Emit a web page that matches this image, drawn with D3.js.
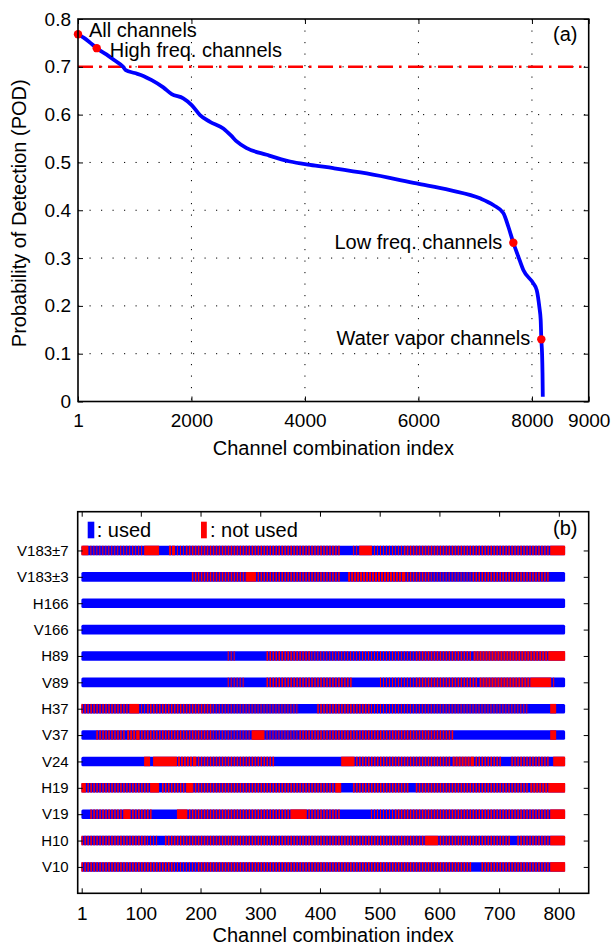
<!DOCTYPE html>
<html><head><meta charset="utf-8">
<script src="https://cdn.jsdelivr.net/npm/d3@7"></script>
<style>
body{margin:0;background:#fff}
text{font-family:"Liberation Sans",Arial,Helvetica,sans-serif;fill:#000}
</style>
</head><body><svg id="c" width="612" height="947"></svg>
<script>
// ---------- Panel (a) data ----------
const podIndex = [1,100,200,331,500,650,796,842,1000,1152,1300,1504,1652,1856,2004,2151,2327,2561,2700,2797,2974,3326,3737,4089,4500,5088,5969,6556,7085,7319,7495,7583,7672,7760,7848,8024,8084,8130,8154,8165,8178,8186,8191];
const podValue = [0.768,0.761,0.752,0.739,0.726,0.713,0.700,0.693,0.687,0.681,0.672,0.657,0.643,0.634,0.620,0.599,0.585,0.571,0.556,0.544,0.530,0.516,0.502,0.495,0.488,0.477,0.456,0.442,0.425,0.411,0.394,0.366,0.332,0.303,0.275,0.247,0.233,0.198,0.170,0.130,0.101,0.060,0.010];
const markerIndex = [1,331,7672,8165];
const markerPOD = [0.768,0.739,0.332,0.130];
const markerLabel = ["All channels","High freq. channels","Low freq. channels","Water vapor channels"];
const thresholdPOD = 0.7;
const xTicksA = [1,2000,4000,6000,8000,9000];
const yTicksA = [0,0.1,0.2,0.3,0.4,0.5,0.6,0.7,0.8];
const xGridA = [2000,4000,6000,8000];
const yGridA = [0.1,0.2,0.3,0.4,0.5,0.6,0.7];

// ---------- Panel (b) data ----------
const channels = ["V183±7","V183±3","H166","V166","H89","V89","H37","V37","V24","H19","V19","H10","V10"];
// usage, in bins of 5 combinations: type + end bin
// b = used, r = not used, m = both about equally, x = mostly used, y = mostly not used
const usageRuns = [
 "r2 x21 r26 b29 y31 x35 m87 b91 x93 r97 x108 m157 r162",
 "b37 m55 r58 m87 b89 y108 m117 x131 m157 b162",
 "b162",
 "b162",
 "b49 x52 b62 m77 x112 m131 y157 r162",
 "b49 x55 b62 m91 b100 x112 m133 y151 r157 x159 b162",
 "m16 r19 x22 m44 x73 b79 m97 x150 b157 r159 b162",
 "b5 m15 y19 m44 x57 r61 x73 m125 b157 r159 b162",
 "b21 r23 b24 r32 y38 m65 b87 r91 m124 y131 m141 b144 m157 b158 r162",
 "r1 m23 r26 b27 m35 r37 m85 r87 b91 m110 b112 m150 y157 r162",
 "b3 m14 r16 m24 b32 r35 m70 r75 m87 b97 x105 m157 r162",
 "m22 x26 b28 m115 r119 m144 b146 m157 r162",
 "m31 x39 m131 b134 m157 r162"
];
const binSize = 5;
const xTicksB = [1,100,200,300,400,500,600,700,800];

const BLUE = "#0000ff", RED = "#ff0000";
const svg = d3.select("#c");

// ================= Panel (a) =================
const A = {l:78, r:588.7, t:19, b:401.5};
const xa = d3.scaleLinear([1,9000],[A.l,A.r]);
const ya = d3.scaleLinear([0,0.8],[A.b,A.t]);
const ga = svg.append("g");

// grid
ga.append("g").selectAll("line").data(xGridA).join("line")
  .attr("x1",d=>xa(d)).attr("x2",d=>xa(d)).attr("y1",A.t).attr("y2",A.b)
  .attr("stroke","#000").attr("stroke-width",1).attr("stroke-dasharray","1.2,10.3");
ga.append("g").selectAll("line").data(yGridA).join("line")
  .attr("y1",d=>ya(d)).attr("y2",d=>ya(d)).attr("x1",A.l).attr("x2",A.r)
  .attr("stroke","#000").attr("stroke-width",1).attr("stroke-dasharray","1.2,10.3");

// threshold
ga.append("line").attr("x1",A.l).attr("x2",A.r).attr("y1",ya(thresholdPOD)).attr("y2",ya(thresholdPOD))
  .attr("stroke",RED).attr("stroke-width",2.6).attr("stroke-dasharray","15,6,2.5,6.5");

// curve
const pts = podIndex.map((d,i)=>[d,podValue[i]]);
ga.append("path").datum(pts)
  .attr("d", d3.line().x(d=>xa(d[0])).y(d=>ya(d[1])).curve(d3.curveMonotoneX))
  .attr("fill","none").attr("stroke",BLUE).attr("stroke-width",3.8).attr("stroke-linejoin","round");

// markers
ga.append("g").selectAll("circle").data(markerIndex).join("circle")
  .attr("cx",d=>xa(d)).attr("cy",(d,i)=>ya(markerPOD[i])).attr("r",4.2).attr("fill",RED);

// annotations
const annPos = [{dx:11,dy:3,anchor:"start"},{dx:13,dy:9,anchor:"start"},{dx:-11,dy:6,anchor:"end"},{dx:-11,dy:6,anchor:"end"}];
ga.append("g").selectAll("text").data(markerLabel).join("text")
  .attr("x",(d,i)=>xa(markerIndex[i])+annPos[i].dx)
  .attr("y",(d,i)=>ya(markerPOD[i])+annPos[i].dy)
  .attr("text-anchor",(d,i)=>annPos[i].anchor)
  .attr("font-size",20).text(d=>d);

// axes (inward ticks)
function styleAxis(g,fs){
  g.select(".domain").remove();
  g.selectAll(".tick line").attr("stroke","#000").attr("stroke-width",1);
  g.selectAll(".tick text").attr("font-size",fs).attr("font-family","Liberation Sans, Arial, sans-serif").attr("fill","#000");
}
ga.append("g").attr("transform",`translate(0,${A.b})`)
  .call(d3.axisBottom(xa).tickValues(xTicksA).tickFormat(d3.format("d")).tickSizeInner(-5).tickSizeOuter(0).tickPadding(12))
  .call(g=>styleAxis(g,19));
ga.append("g").attr("transform",`translate(0,${A.t})`)
  .call(d3.axisTop(xa).tickValues(xTicksA).tickFormat("").tickSizeInner(-5).tickSizeOuter(0))
  .call(g=>styleAxis(g,19));
ga.append("g").attr("transform",`translate(${A.l},0)`)
  .call(d3.axisLeft(ya).tickValues(yTicksA).tickFormat(d=>d===0?"0":d3.format(".1f")(d)).tickSizeInner(-5).tickSizeOuter(0).tickPadding(7))
  .call(g=>styleAxis(g,19));
ga.append("g").attr("transform",`translate(${A.r},0)`)
  .call(d3.axisRight(ya).tickValues(yTicksA).tickFormat("").tickSizeInner(-5).tickSizeOuter(0))
  .call(g=>styleAxis(g,19));

ga.append("rect").attr("x",A.l).attr("y",A.t).attr("width",A.r-A.l).attr("height",A.b-A.t)
  .attr("fill","none").attr("stroke","#000").attr("stroke-width",1.6);

ga.append("text").attr("x",(A.l+A.r)/2).attr("y",455).attr("text-anchor","middle").attr("font-size",20)
  .text("Channel combination index");
ga.append("text").attr("transform",`translate(26,${(A.t+A.b)/2+3}) rotate(-90)`).attr("text-anchor","middle").attr("font-size",20)
  .text("Probability of Detection (POD)");
ga.append("text").attr("x",553).attr("y",41).attr("font-size",20).text("(a)");

// ================= Panel (b) =================
const B = {l:77.7, r:588.7, t:511.7, b:893.3};
const xb = d3.scaleLinear([-5.7,850],[B.l,B.r]);
const yb = d3.scaleLinear([0,14.47],[B.b,B.t]);
const rowPos = channels.map((c,i)=>channels.length-i); // V183±7 at top
const gb = svg.append("g");
const barH = 9.6;

function decode(s){
  const out=[]; let start=0;
  s.split(" ").forEach(tok=>{
    const t=tok[0], end=+tok.slice(1);
    for(let k=start;k<end;k++) out.push(t);
    start=end;
  });
  return out;
}

channels.forEach((ch,ri)=>{
  const bins = decode(usageRuns[ri]);
  const nComb = bins.length*binSize;
  const yc = yb(rowPos[ri]);
  const g = gb.append("g");
  g.append("rect").attr("x",xb(0.5)).attr("width",xb(nComb+0.5)-xb(0.5))
    .attr("y",yc-barH/2).attr("height",barH).attr("fill",BLUE).attr("rx",1.5);
  const iv=[];
  bins.forEach((t,i)=>{
    const x0=xb(i*binSize+0.5), x1=xb((i+1)*binSize+0.5), w=x1-x0;
    if(t==="r") iv.push([x0,x1]);
    else if(t==="m") iv.push([x0,x0+w/2]);
    else if(t==="x") iv.push([x0,x0+w/3]);
    else if(t==="y") iv.push([x0+w/3,x1]);
  });
  const merged=[];
  iv.forEach(v=>{
    const last=merged[merged.length-1];
    if(last && Math.abs(last[1]-v[0])<1e-6) last[1]=v[1]; else merged.push([v[0],v[1]]);
  });
  g.selectAll("rect.nu").data(merged).join("rect").attr("class","nu")
    .attr("x",d=>d[0]).attr("width",d=>d[1]-d[0]).attr("y",yc-barH/2).attr("height",barH).attr("fill",RED);
});

// axes
gb.append("g").attr("transform",`translate(0,${B.b})`)
  .call(d3.axisBottom(xb).tickValues(xTicksB).tickFormat(d3.format("d")).tickSizeInner(-5).tickSizeOuter(0).tickPadding(13))
  .call(g=>styleAxis(g,19));
gb.append("g").attr("transform",`translate(0,${B.t})`)
  .call(d3.axisTop(xb).tickValues(xTicksB).tickFormat("").tickSizeInner(-5).tickSizeOuter(0))
  .call(g=>styleAxis(g,19));
gb.append("g").attr("transform",`translate(${B.l},0)`)
  .call(d3.axisLeft(yb).tickValues(rowPos).tickFormat((d,i)=>channels[channels.length-d]).tickSizeInner(-5).tickSizeOuter(0).tickPadding(9))
  .call(g=>styleAxis(g,15));
gb.append("g").attr("transform",`translate(${B.r},0)`)
  .call(d3.axisRight(yb).tickValues(rowPos).tickFormat("").tickSizeInner(-5).tickSizeOuter(0))
  .call(g=>styleAxis(g,15));
gb.append("rect").attr("x",B.l).attr("y",B.t).attr("width",B.r-B.l).attr("height",B.b-B.t)
  .attr("fill","none").attr("stroke","#000").attr("stroke-width",1.6);

// legend
gb.append("rect").attr("x",87.7).attr("y",521.7).attr("width",6.6).attr("height",16.6).attr("fill",BLUE);
gb.append("text").attr("x",96.7).attr("y",537).attr("font-size",20).text(": used");
gb.append("rect").attr("x",201).attr("y",521.7).attr("width",5.8).attr("height",16.6).attr("fill",RED);
gb.append("text").attr("x",210).attr("y",537).attr("font-size",20).text(": not used");
gb.append("text").attr("x",553).attr("y",535).attr("font-size",20).text("(b)");

gb.append("text").attr("x",(B.l+B.r)/2).attr("y",942).attr("text-anchor","middle").attr("font-size",20)
  .text("Channel combination index");
</script>
</body></html>
